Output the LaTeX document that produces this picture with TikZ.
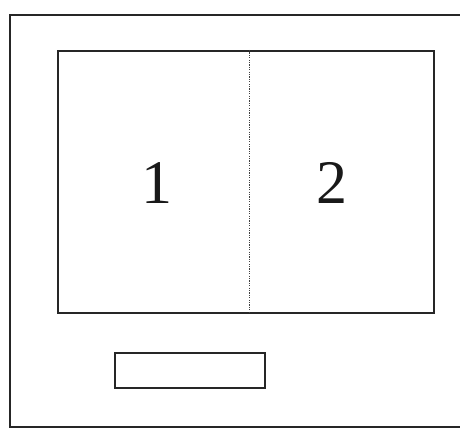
\documentclass[tikz,border=0pt]{standalone}
\usepackage{fontspec}
\setmainfont{Liberation Serif}
\begin{document}
\begin{tikzpicture}[x=1pt,y=-1pt,
  frame/.style={draw=black!85,line width=2.1pt},
  panel/.style={draw=black!85,line width=1.8pt},
  divider/.style={draw=black!75,line width=1pt,dash pattern=on 1.2pt off 1.2pt},
  digit/.style={font=\fontsize{62}{62}\selectfont,text=black!90}]
\useasboundingbox (0,0) rectangle (460,428);
\clip (0,0) rectangle (460,428);
\draw[frame] (10,15) rectangle (462,427);
\node[panel,minimum width=376pt,minimum height=262pt,anchor=north west,inner sep=0pt] (screen) at (57,50) {};
\coordinate (dtop) at (249,50);
\coordinate (dbot) at (249,312);
\draw[divider] (dtop) -- (dbot);
\node[digit] (one) at (157,183) {1};
\node[digit] (two) at (332,183) {2};
\node[panel,minimum width=150pt,minimum height=35pt,anchor=north west,inner sep=0pt] (slot) at (114,352) {};
\end{tikzpicture}
\end{document}
